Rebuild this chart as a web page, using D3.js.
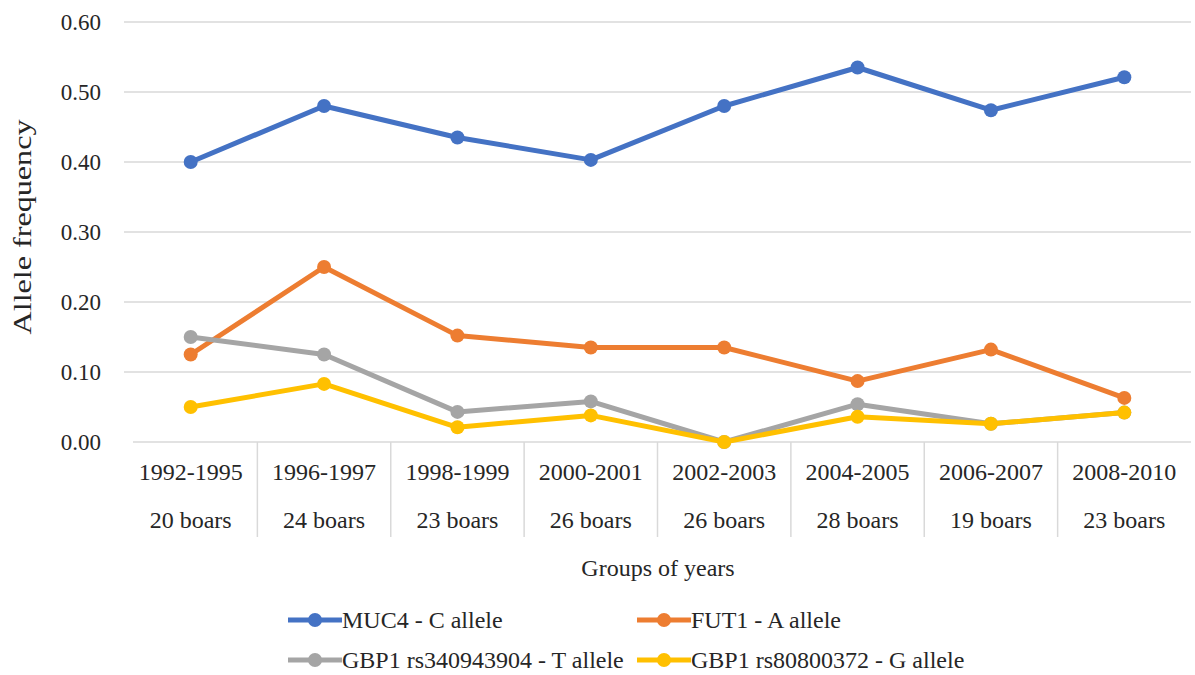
<!DOCTYPE html>
<html>
<head>
<meta charset="utf-8">
<script src="https://cdn.jsdelivr.net/npm/d3@7"></script>
<style>
  body { margin: 0; background: #fff; }
  svg text { font-family: "Liberation Serif", "Times New Roman", serif; fill: #262626; }
</style>
</head>
<body>
<svg id="chart" width="1195" height="675"></svg>
<script>
// year groups and number of boars in each
var groups = ["1992-1995", "1996-1997", "1998-1999", "2000-2001", "2002-2003", "2004-2005", "2006-2007", "2008-2010"];
var boars = ["20 boars", "24 boars", "23 boars", "26 boars", "26 boars", "28 boars", "19 boars", "23 boars"];

// allele frequencies
var muc4 = [0.400, 0.480, 0.435, 0.403, 0.480, 0.535, 0.474, 0.521];
var fut1 = [0.125, 0.250, 0.152, 0.135, 0.135, 0.087, 0.132, 0.063];
var gbp1T = [0.150, 0.125, 0.043, 0.058, 0.000, 0.054, 0.026, 0.042];
var gbp1G = [0.050, 0.083, 0.021, 0.038, 0.000, 0.036, 0.026, 0.042];

var seriesNames = ["MUC4 - C allele", "FUT1 - A allele", "GBP1 rs340943904 - T allele", "GBP1 rs80800372 - G allele"];
var seriesColors = ["#4472C4", "#ED7D31", "#A5A5A5", "#FFC000"];
var yTicks = [0, 0.1, 0.2, 0.3, 0.4, 0.5, 0.6];

var svg = d3.select("#chart");
var plotLeft = 124, plotRight = 1191, plotTop = 22, plotBottom = 442;

var x = d3.scaleBand().domain(groups).range([plotLeft, plotRight]);
var y = d3.scaleLinear().domain([0, 0.6]).range([plotBottom, plotTop]);

// horizontal gridlines
svg.append("g").selectAll("line")
  .data(yTicks.filter(function (d) { return d > 0; }))
  .enter().append("line")
    .attr("x1", plotLeft).attr("x2", plotRight)
    .attr("y1", function (d) { return y(d); })
    .attr("y2", function (d) { return y(d); })
    .attr("stroke", "#d9d9d9").attr("stroke-width", 1.5);

// y tick labels
svg.append("g").selectAll("text")
  .data(yTicks)
  .enter().append("text")
    .attr("x", 101)
    .attr("y", function (d) { return y(d); })
    .attr("dy", "0.35em")
    .attr("text-anchor", "end")
    .style("font-size", "23px")
    .text(function (d) { return d.toFixed(2); });

// x axis line and category dividers
svg.append("line")
  .attr("x1", plotLeft + 9).attr("x2", plotRight)
  .attr("y1", plotBottom).attr("y2", plotBottom)
  .attr("stroke", "#d9d9d9").attr("stroke-width", 1.5);

svg.append("g").selectAll("line")
  .data(groups.slice(1))
  .enter().append("line")
    .attr("x1", function (d) { return x(d); })
    .attr("x2", function (d) { return x(d); })
    .attr("y1", plotBottom).attr("y2", 537)
    .attr("stroke", "#d9d9d9").attr("stroke-width", 1.5);

// two-row category labels
var cats = svg.append("g").selectAll("g")
  .data(groups)
  .enter().append("g")
    .attr("transform", function (d) { return "translate(" + (x(d) + x.bandwidth() / 2) + ",0)"; });
cats.append("text")
  .attr("y", 472).attr("dy", "0.35em")
  .attr("text-anchor", "middle")
  .style("font-size", "24px")
  .text(function (d) { return d; });
cats.append("text")
  .attr("y", 520).attr("dy", "0.35em")
  .attr("text-anchor", "middle")
  .style("font-size", "24px")
  .text(function (d, i) { return boars[i]; });

// axis titles
svg.append("text")
  .attr("x", 658).attr("y", 568).attr("dy", "0.35em")
  .attr("text-anchor", "middle")
  .style("font-size", "24px")
  .text("Groups of years");

svg.append("text")
  .attr("transform", "translate(22,227) rotate(-90)")
  .attr("dy", "0.35em")
  .attr("text-anchor", "middle")
  .attr("textLength", 215)
  .attr("lengthAdjust", "spacingAndGlyphs")
  .style("font-size", "26px")
  .text("Allele frequency");

// lines and markers
var allSeries = [muc4, fut1, gbp1T, gbp1G];
var line = d3.line()
  .x(function (d, i) { return x(groups[i]) + x.bandwidth() / 2; })
  .y(function (d) { return y(d); });

allSeries.forEach(function (values, s) {
  var g = svg.append("g");
  g.append("path")
    .datum(values)
    .attr("d", line)
    .attr("fill", "none")
    .attr("stroke", seriesColors[s])
    .attr("stroke-width", 5)
    .attr("stroke-linejoin", "round");
  g.selectAll("circle")
    .data(values)
    .enter().append("circle")
      .attr("cx", function (d, i) { return x(groups[i]) + x.bandwidth() / 2; })
      .attr("cy", function (d) { return y(d); })
      .attr("r", 7)
      .attr("fill", seriesColors[s]);
});

// legend, two columns by two rows
var legendPos = [[288, 620], [637, 620], [288, 660], [637, 660]];
var legend = svg.append("g").selectAll("g")
  .data(seriesNames)
  .enter().append("g")
    .attr("transform", function (d, i) { return "translate(" + legendPos[i][0] + "," + legendPos[i][1] + ")"; });
legend.append("line")
  .attr("x1", 0).attr("x2", 54)
  .attr("stroke", function (d, i) { return seriesColors[i]; })
  .attr("stroke-width", 5);
legend.append("circle")
  .attr("cx", 27).attr("r", 7)
  .attr("fill", function (d, i) { return seriesColors[i]; });
legend.append("text")
  .attr("x", 54).attr("dy", "0.35em")
  .style("font-size", "24px")
  .text(function (d) { return d; });
</script>
</body>
</html>
